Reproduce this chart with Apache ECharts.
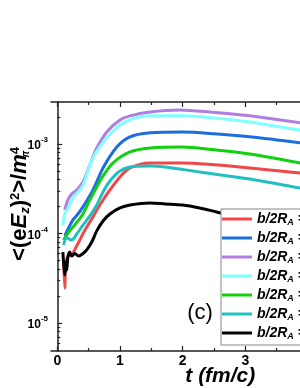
<!DOCTYPE html>
<html><head><meta charset="utf-8">
<script src="https://cdn.jsdelivr.net/npm/echarts@6/dist/echarts.min.js"></script>
<style>html,body{margin:0;padding:0;background:#fff}#c{width:300px;height:388px}</style>
</head><body><div id="c"></div>
<script>
// ---- data: [t (fm/c), <(eEz)^2>/m_pi^4] ----
const red = [[0.10,5.06e-5],[0.12,2.46e-5],[0.135,4.45e-5],[0.17,5.6e-5],[0.23,5.75e-5],[0.30,7.06e-5],[0.36,8.45e-5],[0.44,1.09e-4],[0.52,1.34e-4],[0.68,2.08e-4],[0.84,3.06e-4],[1.0,4.28e-4],[1.16,5.4e-4],[1.48,6.14e-4],[2.0,6.14e-4],[2.5,5.85e-4],[3.07,5.4e-4],[3.87,4.74e-4],[4.5,4.3e-4]];
const blue = [[0.12,9.4e-5],[0.17,1.12e-4],[0.25,1.42e-4],[0.33,1.65e-4],[0.41,1.98e-4],[0.57,3.06e-4],[0.73,5.4e-4],[0.95,9.25e-4],[1.16,1.2e-3],[1.48,1.33e-3],[2.0,1.36e-3],[2.5,1.3e-3],[3.07,1.2e-3],[3.87,1.03e-3],[4.5,9.0e-4]];
const purple = [[0.12,1.83e-4],[0.17,2.37e-4],[0.23,2.76e-4],[0.31,3.06e-4],[0.41,3.76e-4],[0.52,5.82e-4],[0.63,9.0e-4],[0.79,1.36e-3],[1.0,1.85e-3],[1.16,2.06e-3],[1.48,2.28e-3],[1.95,2.4e-3],[2.43,2.28e-3],[3.07,2.06e-3],[3.87,1.72e-3],[4.5,1.5e-3]];
const lightCyan = [[0.09,1.24e-4],[0.12,1.65e-4],[0.17,1.93e-4],[0.25,2.5e-4],[0.33,2.91e-4],[0.41,3.48e-4],[0.57,6.98e-4],[0.79,1.17e-3],[1.05,1.72e-3],[1.48,2.06e-3],[2.0,2.06e-3],[2.5,1.95e-3],[3.07,1.76e-3],[3.87,1.43e-3],[4.5,1.22e-3]];
const green = [[0.10,8.45e-5],[0.17,1.01e-4],[0.25,1.18e-4],[0.33,1.38e-4],[0.41,1.65e-4],[0.52,2.37e-4],[0.63,3.31e-4],[0.73,4.39e-4],[0.89,6.14e-4],[1.16,8.14e-4],[1.48,9.02e-4],[2.0,9.25e-4],[2.5,8.6e-4],[3.07,7.73e-4],[3.87,6.14e-4],[4.5,5.2e-4]];
const teal = [[0.10,7.45e-5],[0.15,8.9e-5],[0.23,8.45e-5],[0.31,9.86e-5],[0.41,1.24e-4],[0.52,1.57e-4],[0.63,2.08e-4],[0.73,2.91e-4],[0.84,3.86e-4],[1.0,4.99e-4],[1.16,5.53e-4],[1.48,5.68e-4],[1.72,5.53e-4],[2.27,4.86e-4],[3.07,4.06e-4],[3.87,3.22e-4],[4.5,2.7e-4]];
const black = [[0.09,6.2e-5],[0.10,4.8e-5],[0.12,3.43e-5],[0.135,4.8e-5],[0.15,3.9e-5],[0.17,5.46e-5],[0.20,6.2e-5],[0.23,5.6e-5],[0.28,5.98e-5],[0.34,5.6e-5],[0.41,5.98e-5],[0.47,6.55e-5],[0.55,8.03e-5],[0.63,1.07e-4],[0.73,1.38e-4],[0.84,1.65e-4],[1.0,1.93e-4],[1.16,2.08e-4],[1.48,2.19e-4],[1.72,2.14e-4],[2.0,2.08e-4],[2.27,1.93e-4],[2.54,1.74e-4],[3.07,1.42e-4],[3.87,1.15e-4],[4.5,9.5e-5]];

const seriesData = [red, blue, purple, lightCyan, green, teal, black];
const seriesColors = ['#f04848', '#1c6ee0', '#b07ee0', '#80ffff', '#10d010', '#20c0c0', '#000000'];
const legendValues = ['0', '0.2', '0.4', '0.6', '0.8', '1.0', '1.2'];

const xMajorTicks = [0, 1, 2, 3, 4, 5];
const xMinorTicks = [0.5, 1.5, 2.5, 3.5, 4.5];
const yMajorTicks = [1e-5, 1e-4, 1e-3];
const yMinorTicks = [6e-6,7e-6,8e-6,9e-6,2e-5,3e-5,4e-5,5e-5,6e-5,7e-5,8e-5,9e-5,2e-4,3e-4,4e-4,5e-4,6e-4,7e-4,8e-4,9e-4,2e-3];

const X_MIN = -0.1, X_MAX = 5.3, Y_MIN = 4.87e-6, Y_MAX = 2.94e-3;

const axisColor = '#222';
const FONT = 'Arial';

function xAxisDef(pos, major, showLabel) {
  return {
    type: 'value', position: pos, min: X_MIN, max: X_MAX,
    axisLine: { show: major, onZero: false, lineStyle: { color: axisColor, width: 1.5 } },
    axisTick: { show: true, inside: true, length: major ? 5 : 3, customValues: major ? xMajorTicks : xMinorTicks, lineStyle: { color: axisColor, width: 1.2 } },
    axisLabel: { show: showLabel, customValues: xMajorTicks, margin: 3, color: '#000', fontFamily: FONT, fontWeight: 'bold', fontSize: 14 },
    splitLine: { show: false }
  };
}
function yAxisDef(major) {
  return {
    type: 'log', logBase: 10, position: 'left', min: Y_MIN, max: Y_MAX,
    axisLine: { show: major, lineStyle: { color: axisColor, width: 1.5 } },
    axisTick: { show: true, inside: true, length: major ? 5 : 3, customValues: major ? yMajorTicks : yMinorTicks, lineStyle: { color: axisColor, width: 1.2 } },
    axisLabel: {
      show: major, customValues: yMajorTicks, margin: 3,
      formatter: v => '{b|10}{s|' + Math.round(Math.log10(v)) + '}',
      rich: {
        b: { fontFamily: FONT, fontWeight: 'bold', fontSize: 12, color: '#000', padding: [4, 0, 0, 0] },
        s: { fontFamily: FONT, fontWeight: 'bold', fontSize: 8, color: '#000', verticalAlign: 'top' }
      }
    },
    splitLine: { show: false }
  };
}

const legendRich = {
  i: { fontFamily: FONT, fontSize: 14, fontWeight: 'bold', fontStyle: 'italic', lineHeight: 16, color: '#000' },
  s: { fontFamily: FONT, fontSize: 9, fontWeight: 'bold', fontStyle: 'italic', lineHeight: 9, verticalAlign: 'bottom', color: '#000' }
};

const names = legendValues.map(v => 'b/2RA = ' + v);

const chart = echarts.init(document.getElementById('c'));
chart.setOption({
  animation: false,
  backgroundColor: '#fff',
  grid: { left: 51, top: 102, width: 338.6, height: 249, outerBoundsMode: 'none' },
  xAxis: [
    Object.assign(xAxisDef('bottom', true, true), {
      name: 't (fm/c)', nameLocation: 'middle', nameGap: 15, nameMoveOverlap: false,
      nameTextStyle: { fontFamily: FONT, fontWeight: 'bold', fontStyle: 'italic', fontSize: 21, color: '#000' }
    }),
    xAxisDef('bottom', false, false),
    xAxisDef('top', true, false),
    xAxisDef('top', false, false)
  ],
  yAxis: [yAxisDef(true), yAxisDef(false)],
  legend: {
    orient: 'vertical', left: 221, top: 209,
    itemWidth: 30, itemHeight: 3, icon: 'rect', itemGap: 3,
    padding: [2, 30, 4, 1],
    borderColor: '#888', borderWidth: 1, backgroundColor: '#fff',
    data: names,
    formatter: n => '{i|b/2R}{s|A}{i| = ' + n.split('= ')[1] + '}',
    textStyle: { fontSize: 14, lineHeight: 16, rich: legendRich }
  },
  graphic: [
    { type: 'text', x: 200, y: 313, style: { text: '(c)', fontFamily: FONT, fontSize: 22, fill: '#000', textAlign: 'center', textVerticalAlign: 'middle' }, z: 10 },
    { type: 'text', x: 20, y: 204, rotation: Math.PI / 2,
      style: {
        text: '{n|<(e}{it|E}{sb|z}{n|)}{sp|2}{n|>/}{it|m}{sb2|π}{sp|4}',
        textAlign: 'center', textVerticalAlign: 'middle',
        rich: {
          n: { fontFamily: FONT, fontWeight: 'bold', fontSize: 22, lineHeight: 23, fill: '#000' },
          it: { fontFamily: FONT, fontWeight: 'bold', fontStyle: 'italic', fontSize: 22, lineHeight: 23, fill: '#000' },
          sb: { fontFamily: FONT, fontWeight: 'bold', fontStyle: 'italic', fontSize: 13, lineHeight: 12, verticalAlign: 'bottom', fill: '#000' },
          sb2: { fontFamily: FONT, fontWeight: 'bold', fontStyle: 'italic', fontSize: 10, lineHeight: 10, verticalAlign: 'bottom', width: 0, fill: '#000' },
          sp: { fontFamily: FONT, fontWeight: 'bold', fontSize: 13, lineHeight: 12, verticalAlign: 'top', fill: '#000' }
        }
      }
    }
  ],
  series: seriesData.map((d, i) => ({
    name: names[i], type: 'line', data: d, xAxisIndex: 0, yAxisIndex: 0,
    showSymbol: false, smooth: 0.3, color: seriesColors[i],
    lineStyle: { width: 3, color: seriesColors[i] }
  }))
});
</script></body></html>
